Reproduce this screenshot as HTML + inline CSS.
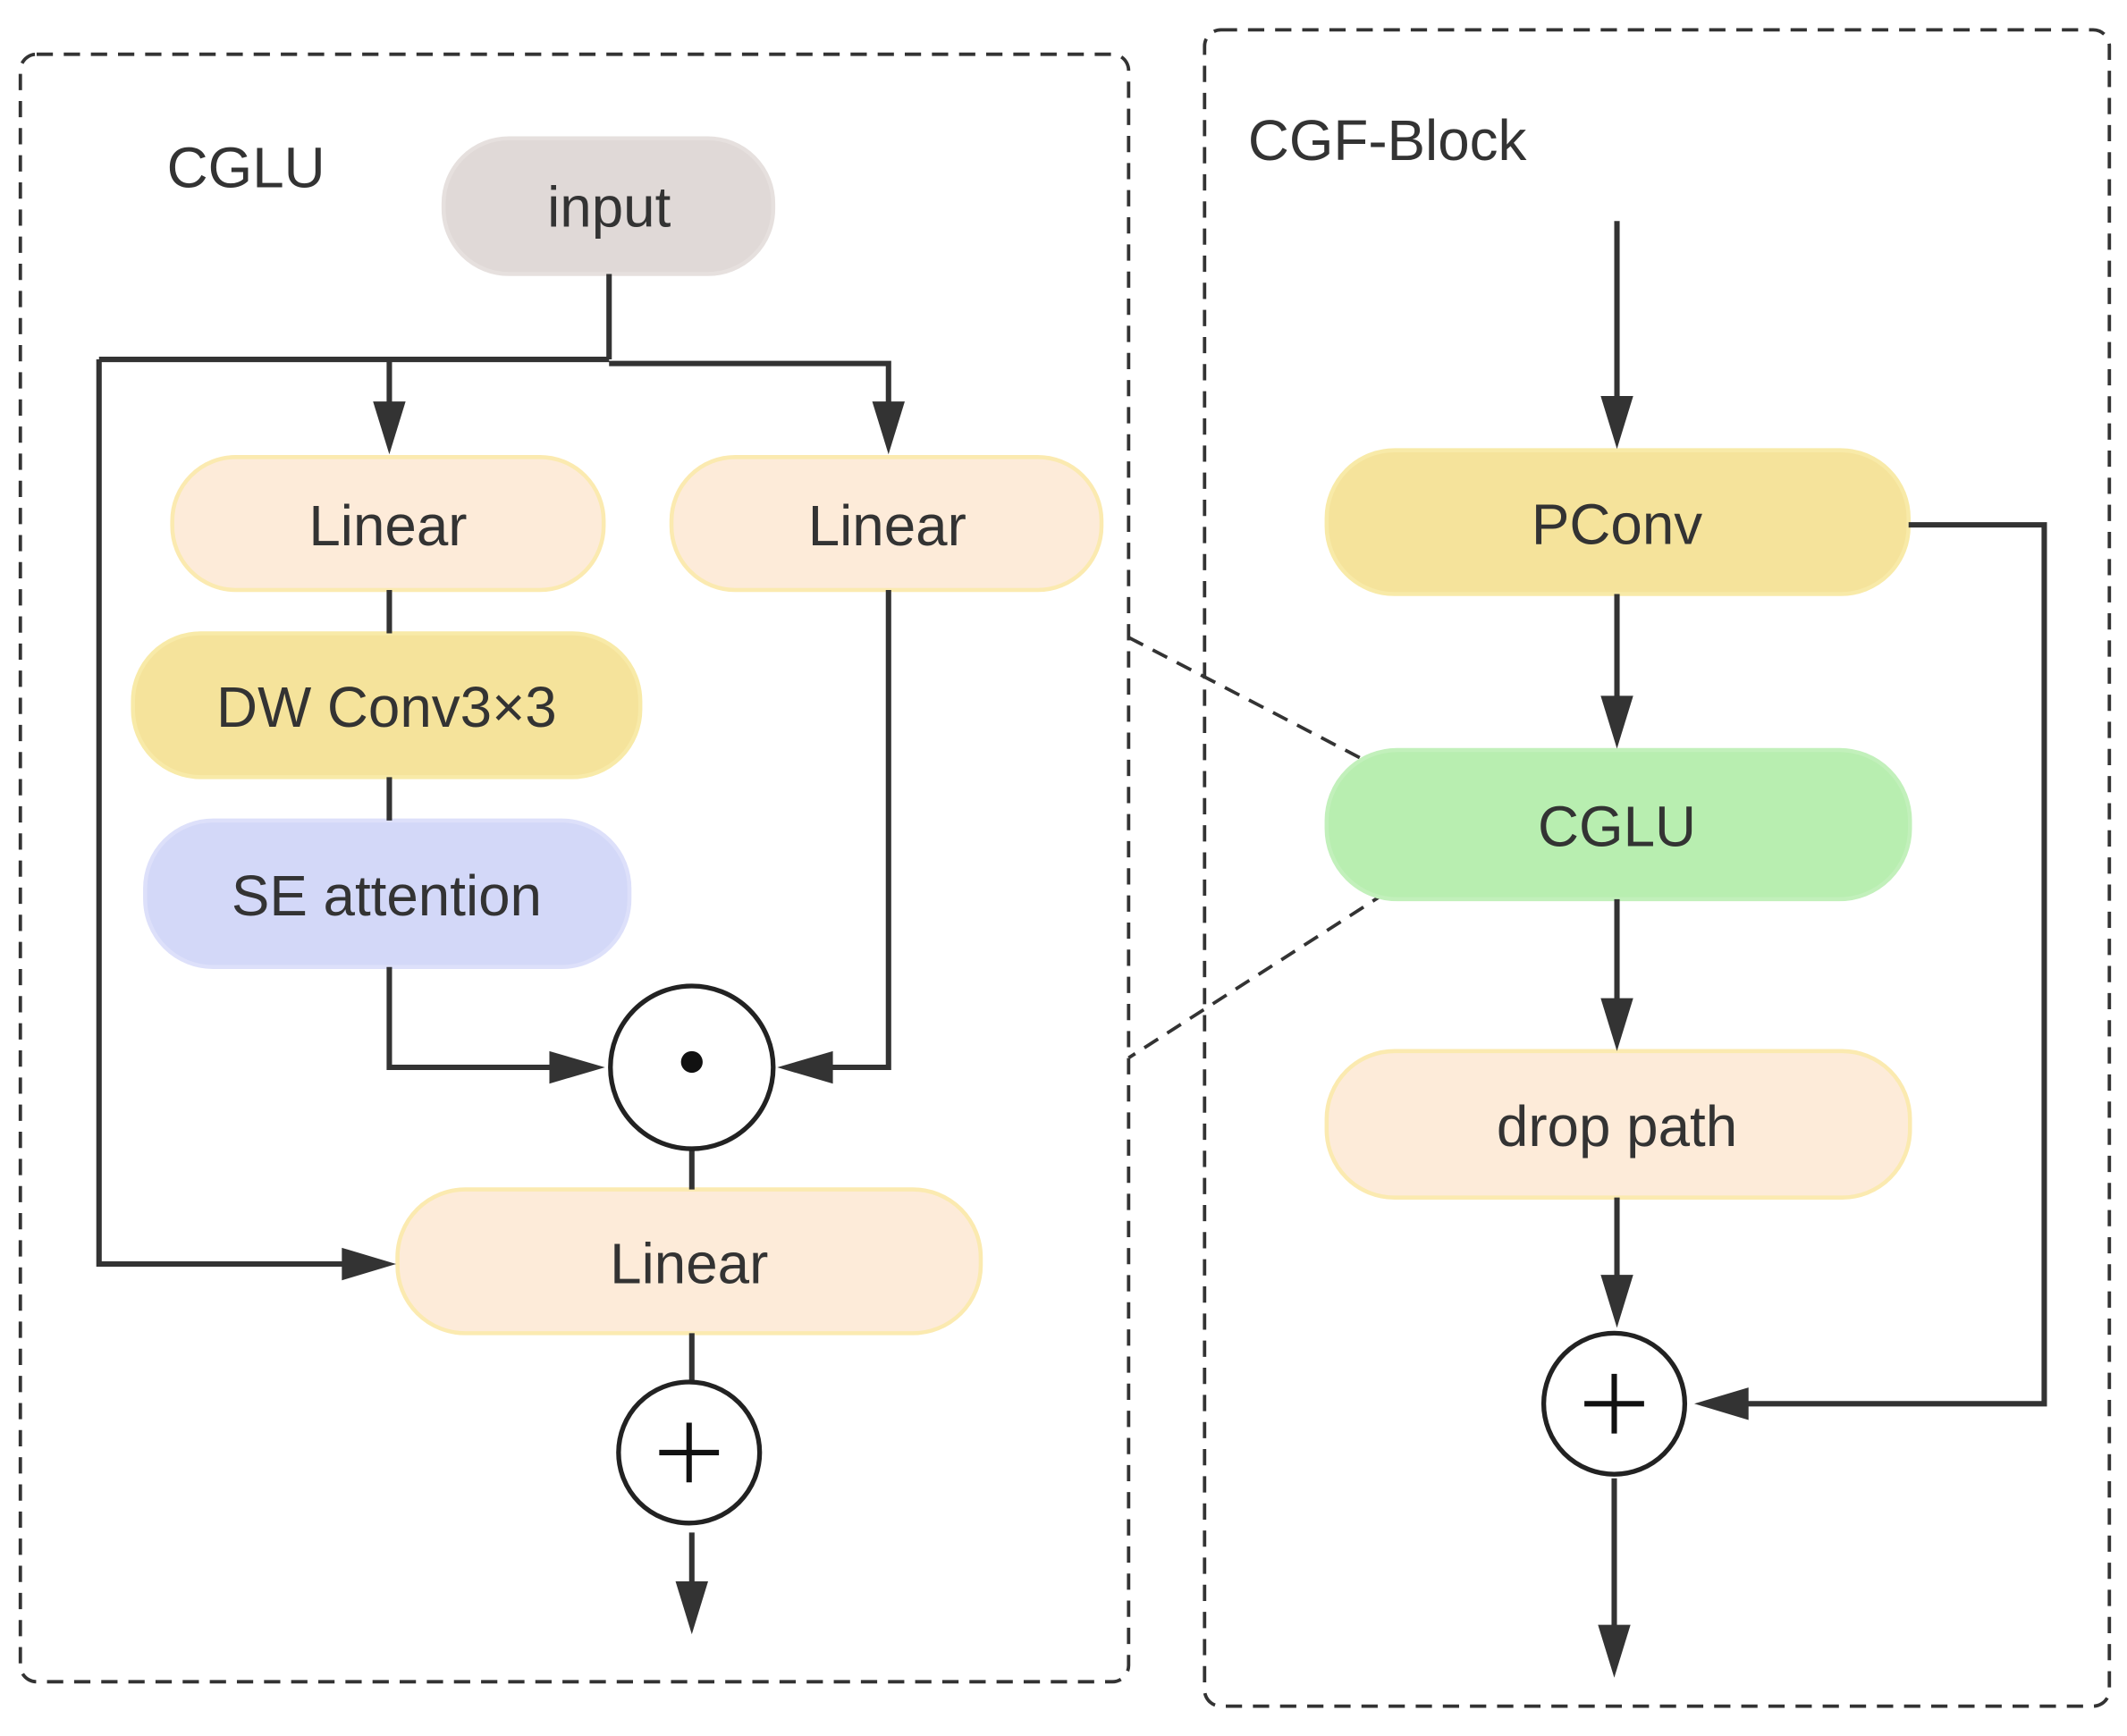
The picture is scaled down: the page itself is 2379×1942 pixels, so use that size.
<!DOCTYPE html>
<html><head><meta charset="utf-8"><style>
html,body{margin:0;padding:0;background:#fff;}
svg{display:block;}
text{font-family:"Liberation Sans",sans-serif;fill:#333;}
</style></head><body>
<svg width="2379" height="1942" viewBox="0 0 1568 1280" preserveAspectRatio="none" xmlns="http://www.w3.org/2000/svg">
<defs>
<marker id="a" markerWidth="10" markerHeight="10" refX="9" refY="5" orient="auto" markerUnits="userSpaceOnUse" viewBox="0 0 10 10">
</marker>
</defs>
<g fill="none" stroke="#333" stroke-width="2.5" stroke-dasharray="12,8">
<rect x="15" y="40" width="817" height="1200" rx="12"/>
<rect x="888" y="22" width="667" height="1236" rx="12"/>
<line x1="832" y1="470" x2="1005" y2="560"/>
<line x1="1022" y1="658" x2="832" y2="780"/>
</g>
<text x="123" y="138" font-size="42">CGLU</text>
<text x="920" y="118" font-size="42">CGF-Block</text>
<!-- boxes -->
<g stroke-width="3">
<rect x="327" y="102" width="243" height="100" rx="48" fill="#e0d9d7" stroke="#e6e0de"/>
<rect x="127" y="337" width="318" height="98" rx="47" fill="#fdebd9" stroke="#fbeab0"/>
<rect x="495" y="337" width="317" height="98" rx="47" fill="#fdebd9" stroke="#fbeab0"/>
<rect x="98" y="467" width="374" height="106" rx="50" fill="#f5e39b" stroke="#f8eaa8"/>
<rect x="107" y="605" width="357" height="108" rx="50" fill="#d3d8f8" stroke="#dde0fa"/>
<rect x="293" y="877" width="430" height="106" rx="50" fill="#fdebd9" stroke="#fbeab0"/>
<rect x="978" y="332" width="429" height="106" rx="50" fill="#f5e39b" stroke="#f8eaa8"/>
<rect x="978" y="553" width="430" height="110" rx="52" fill="#b8eeb0" stroke="#c2f0bb"/>
<rect x="978" y="775" width="430" height="108" rx="50" fill="#fdebd9" stroke="#fbeab0"/>
</g>
<g font-size="42" text-anchor="middle">
<text x="449" y="167">input</text>
<text x="286" y="402">Linear</text>
<text x="654" y="402">Linear</text>
<text x="285" y="536">DW Conv3×3</text>
<text x="285" y="675">SE attention</text>
<text x="508" y="946">Linear</text>
<text x="1192" y="401">PConv</text>
<text x="1192" y="624">CGLU</text>
<text x="1192" y="845">drop path</text>
</g>
<!-- connectors -->
<g fill="none" stroke="#333" stroke-width="4">
<path d="M449 202 V265 M73 265 H449 M449 268 H655 V300 M287 265 V300"/>
<path d="M287 435 V467 M287 573 V605"/>
<path d="M287 713 V787 H410"/>
<path d="M655 435 V787 H610"/>
<path d="M73 265 V932 H256"/>
<path d="M510 847 V877 M510 983 V1019 M510 1130 V1170"/>
<path d="M1192 163 V296 M1192 438 V517 M1192 663 V740 M1192 883 V945 M1190 1090 V1200"/>
<path d="M1407 387 H1507 V1035 H1285"/>
</g>
<g fill="#333">
<polygon points="275,296 299,296 287,335"/>
<polygon points="643,296 667,296 655,335"/>
<polygon points="405,775 405,799 446,787"/>
<polygon points="614,775 614,799 573,787"/>
<polygon points="252,920 252,944 292,932"/>
<polygon points="498,1166 522,1166 510,1205"/>
<polygon points="1180,292 1204,292 1192,331"/>
<polygon points="1180,513 1204,513 1192,552"/>
<polygon points="1180,736 1204,736 1192,775"/>
<polygon points="1180,940 1204,940 1192,979"/>
<polygon points="1178,1198 1202,1198 1190,1237"/>
<polygon points="1289,1023 1289,1047 1249,1035"/>
</g>
<g fill="#fff" stroke="#222" stroke-width="3.5">
<circle cx="510" cy="787" r="60"/>
<circle cx="508" cy="1071" r="52"/>
<circle cx="1190" cy="1035" r="52"/>
</g>
<circle cx="510" cy="783" r="8" fill="#111"/>
<g stroke="#111" stroke-width="4">
<path d="M486 1071 H530 M508 1049 V1093"/>
<path d="M1168 1035 H1212 M1190 1013 V1057"/>
</g>
</svg>
</body></html>
